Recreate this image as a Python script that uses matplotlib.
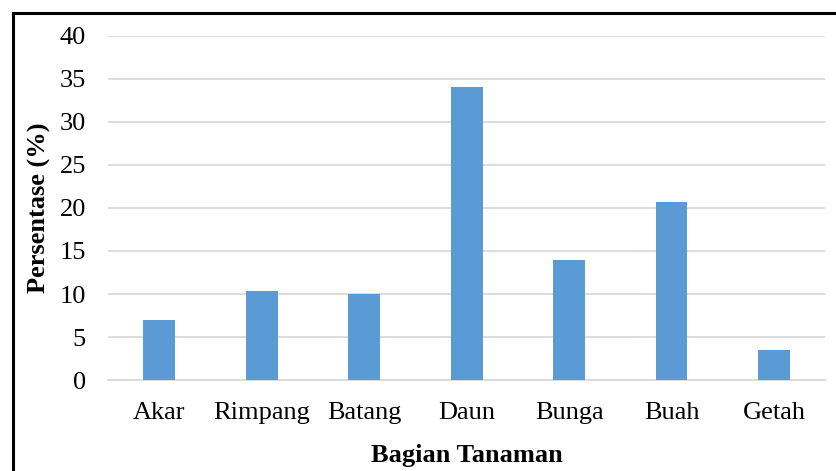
import matplotlib.pyplot as plt
from matplotlib.lines import Line2D

# data
bagian = ["Akar", "Rimpang", "Batang", "Daun", "Bunga", "Buah", "Getah"]
persentase = [7.0, 10.3, 10.0, 34.0, 14.0, 20.7, 3.5]
y_ticks = [0, 5, 10, 15, 20, 25, 30, 35, 40]

plt.rcParams['font.family'] = ['Liberation Serif', 'DejaVu Serif']

fig = plt.figure(figsize=(8.37, 4.71), dpi=100)
ax = fig.add_axes([0.129, 0.193, 0.857, 0.731])

ax.bar(bagian, persentase, width=0.31, color="#5B9BD5", zorder=3)

ax.set_ylim(0, 40)
ax.set_xlim(-0.5, len(bagian) - 0.5)
ax.set_yticks(y_ticks)
ax.grid(axis='y', color="#D9D9D9", linewidth=1.3, zorder=0)
ax.tick_params(axis='both', length=0, labelsize=19)
ax.tick_params(axis='x', pad=16)
ax.tick_params(axis='y', pad=16)
for s in ["top", "right", "left"]:
    ax.spines[s].set_visible(False)
ax.spines["bottom"].set_color("#D9D9D9")
ax.spines["bottom"].set_linewidth(1.3)

ax.set_xlabel("Bagian Tanaman", fontsize=19, fontweight="bold", labelpad=14)
ax.set_ylabel("Persentase (%)", fontsize=19, fontweight="bold", labelpad=6)

# outer frame (top and left edges visible)
fig.add_artist(Line2D([0.0155, 1.0], [0.972, 0.972], color="black", linewidth=2.2, transform=fig.transFigure))
fig.add_artist(Line2D([0.0155, 0.0155], [0.0, 0.972], color="black", linewidth=2.2, transform=fig.transFigure))

fig.savefig("out.png", dpi=100)
